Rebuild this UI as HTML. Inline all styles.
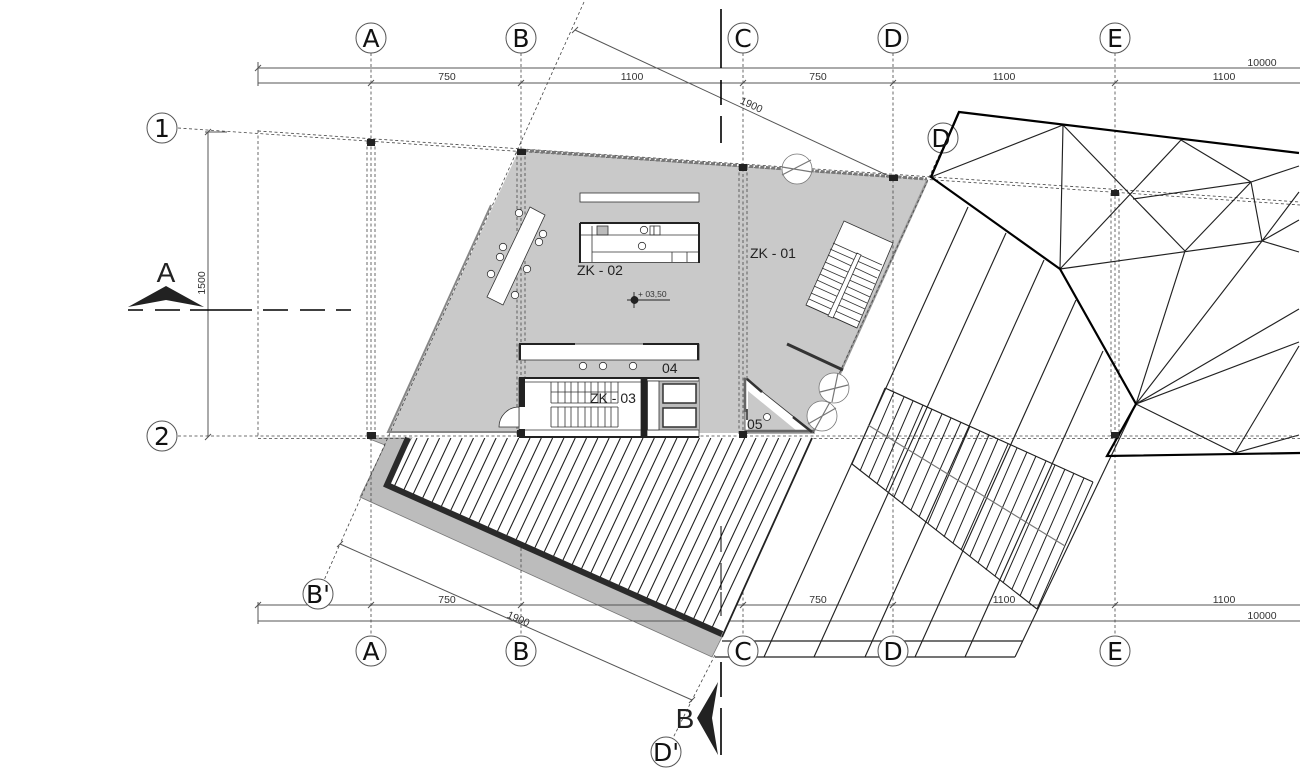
<!DOCTYPE html>
<html><head><meta charset="utf-8"><style>html,body{margin:0;padding:0;background:#fff}svg{display:block}text{font-family:"Liberation Sans",sans-serif;fill:#333}.g text{font-family:"DejaVu Sans",sans-serif;font-size:25px;fill:#111;text-anchor:middle}.d text{font-size:10.5px;text-anchor:middle;fill:#333}.z text{font-size:14px;fill:#222}</style></head><body>
<svg width="1300" height="774" viewBox="0 0 1300 774" xmlns="http://www.w3.org/2000/svg">
<defs><clipPath id="hc"><polygon points="412,438 812,438 722,637 385,487"/></clipPath></defs>
<rect width="1300" height="774" fill="#fff"/>
<!-- grey floor -->
<polygon points="519,150 927,180 813,433 388,433" fill="#c9c9c9"/>
<polyline points="491,205 388,432 519,432" fill="none" stroke="#888" stroke-width="2"/>
<line x1="927" y1="181" x2="813" y2="433" stroke="#999" stroke-width="2.500"/>
<polygon points="367,438 385,445 360,497 712,657 722,637 385,487 412,438" fill="#bcbcbc" stroke="#777" stroke-width=".8"/>
<!-- dimensions -->
<g stroke="#555" stroke-width="1" fill="none">
<path d="M258,68H1300M258,83H1300M258,605H1300M258,621H1300M258,62V86M258,602V624"/>
<path d="M208,132V437M205,132H227M575,30L893,178M340,544L692,700"/>
<path d="M255,71l6,-6M368,86l6,-6M518,86l6,-6M740,86l6,-6M890,86l6,-6M1112,86l6,-6M368,608l6,-6M518,608l6,-6M740,608l6,-6M890,608l6,-6M1112,608l6,-6M255,608l6,-6M572,33l6,-6M890,181l6,-6M337,547l6,-6M689,703l6,-6M205,135l6,-6M205,440l6,-6"/>
</g>
<!-- dashed grid -->
<g stroke="#444" stroke-width=".8" stroke-dasharray="3,2.500" fill="none">
<path d="M371,53V636M521,53V636M743,53V636M893,53V636M1115,53V636"/>
<path d="M367,141V436M375,141V436M517,151V436M525,151V436M739,167V436M747,167V436M1111,193V436M1119,193V436"/>
<path d="M178,128L1300,205M258,131L1300,202"/>
<path d="M178,436H1300M258,438.500H1300M258,130V438"/>
<path d="M584,2L340,544M318,594L340,544M715,655L692,700L666,752M953,125L812,433"/>
</g>
<path d="M519,150L927,179" stroke="#777" stroke-width="3" stroke-dasharray="4,1.500" fill="none"/>
<!-- hatched terrace -->
<polygon points="412,438 812,438 722,637 385,487" fill="#fff"/>
<g clip-path="url(#hc)"><path stroke="#222" stroke-width="1.100" fill="none" d="M417,438l-95,202M428.300,438l-95,202M439.600,438l-95,202M450.900,438l-95,202M462.200,438l-95,202M473.500,438l-95,202M484.800,438l-95,202M496.100,438l-95,202M507.400,438l-95,202M518.700,438l-95,202M530,438l-95,202M541.300,438l-95,202M552.600,438l-95,202M563.900,438l-95,202M575.200,438l-95,202M586.500,438l-95,202M597.800,438l-95,202M609.100,438l-95,202M620.400,438l-95,202M631.700,438l-95,202M643,438l-95,202M654.300,438l-95,202M665.600,438l-95,202M676.900,438l-95,202M688.200,438l-95,202M699.500,438l-95,202M710.800,438l-95,202M722.100,438l-95,202M733.400,438l-95,202M744.700,438l-95,202M756,438l-95,202M767.300,438l-95,202M778.600,438l-95,202M789.900,438l-95,202M801.200,438l-95,202"/></g>
<polyline points="408,438 387,485 722,634" fill="none" stroke="#2a2a2a" stroke-width="6"/>
<line x1="812" y1="438" x2="722" y2="637" stroke="#222" stroke-width="1.800"/>
<!-- roof thin lines -->
<g stroke="#222" stroke-width="1.150" fill="none">
<path d="M931,177L1063,125L1060,269M1063,125L1185,251M1060,269L1181,140L1251,182L1299,166M1133,199L1251,182L1262,241M1251,182L1185,251M1060,269L1262,241L1299,252M1262,241L1299,192M1262,241L1299,220M1136,404L1185,251M1136,404L1262,241M1136,404L1299,309M1136,404L1299,342M1136,404L1235,453L1299,435M1235,453L1299,346"/>
<path d="M764,657L968,207M814,657L1006,233M865,657L1044,260M915,657L1076,300M965,657L1103,351M1015,657L1136,404"/>
<path d="M722,641H1023M715,657H1015"/>
<path d="M885,388L1093,482M852,464L1037,609"/>
<path stroke-width="1" d="M885,388L852,464M894,392L860,471M904,397L869,477M913,401L877,484M923,405L886,490M932,409L894,497M942,414L902,504M951,418L911,510M961,422L919,517M970,426L928,523M980,431L936,530M989,435L944,537M998,439L953,543M1008,444L961,550M1017,448L970,556M1027,452L978,563M1036,456L986,570M1046,461L995,576M1055,465L1003,583M1065,469L1012,589M1074,473L1020,596M1084,478L1029,603M1093,482L1037,609"/>
<path stroke="#777" d="M868,425L1065,546"/>
</g>
<g stroke="#000" stroke-width="2.200" fill="none" stroke-linejoin="miter">
<polyline points="1299,153 959,112 931,177 1060,269 1136,404 1107,456 1300,453"/>
</g>
<!-- furniture -->
<g stroke="#333" stroke-width=".8" fill="#fff">
<rect x="580" y="193" width="119" height="9"/>
<rect x="580.500" y="223" width="118" height="39.500"/>
<polygon points="530,207 545,215 503,305 487,297"/>
<circle cx="519" cy="213" r="3.700"/><circle cx="543" cy="234" r="3.700"/><circle cx="539" cy="242" r="3.700"/><circle cx="503" cy="247" r="3.700"/><circle cx="500" cy="257" r="3.700"/><circle cx="527" cy="269" r="3.700"/><circle cx="491" cy="274" r="3.700"/><circle cx="515" cy="295" r="3.700"/>
<circle cx="644" cy="230" r="3.700"/><circle cx="642" cy="246" r="3.700"/>
<rect x="597" y="226" width="11" height="9" fill="#bbb"/><rect x="650" y="226" width="4" height="9"/><rect x="654" y="226" width="6" height="9"/>
<rect x="519" y="344" width="180" height="16"/>
<circle cx="583" cy="366" r="3.700"/><circle cx="603" cy="366" r="3.700"/><circle cx="633" cy="366" r="3.700"/>
<polygon points="844,221 893,243 857,328 806,305"/>
<rect x="519" y="378" width="122" height="59"/>
<rect x="647" y="378" width="52" height="59"/>
<path d="M519,407A20,20 0 0 0 499,427H519Z"/>
<polygon points="745,378 814,433 745,433"/>
<circle cx="797" cy="169" r="15" stroke="#777"/><circle cx="834" cy="388" r="15" stroke="#777"/><circle cx="822" cy="416" r="15" stroke="#777"/>
</g>
<polygon points="748,391 797,431 748,431" fill="#c9c9c9"/>
<rect x="659" y="381" width="40" height="49" fill="#bbb"/>
<circle cx="767" cy="417" r="3.500" fill="#fff" stroke="#333" stroke-width=".8"/>
<g stroke="#333" stroke-width=".8" fill="none">
<path d="M592,226V262M581,235H698M592,252H698M672,252V262M687,252V262"/>
<path d="M833,243L882,265M830,249L880,271M828,255L877,278M825,262L875,284M822,268L872,290M820,274L870,297M817,280L867,303M814,286L865,309M811,293L862,315M809,299L860,322M806,305L857,328"/>
<path d="M551,382V403M558,382V403M565,382V403M571,382V403M578,382V403M585,382V403M591,382V403M598,382V403M605,382V403M611,382V403M618,382V403M551,407V427M558,407V427M565,407V427M571,407V427M578,407V427M585,407V427M591,407V427M598,407V427M605,407V427M611,407V427M618,407V427M551,392H618M551,403H618M551,407H618M551,427H618"/>
<path d="M525,382H641M525,430H641M647,381H699M647,430H699"/>
</g>
<polygon points="857,253 861,255 833,318 828,316" fill="#fff" stroke="#333" stroke-width=".8"/>
<g stroke="#333" stroke-width=".8" fill="#fff">
<rect x="647.500" y="381" width="11.500" height="49"/>
<rect x="663" y="384" width="33" height="19" stroke-width="1.500"/>
<rect x="663" y="408" width="33" height="19" stroke-width="1.500"/>
</g>
<g stroke="#777" stroke-width="1.200"><path d="M782,175L811,160M782,167L812,172M820,392L848,385M832,402L838,373M808,424L836,408M814,431L830,402"/></g>
<g stroke="#222" fill="none">
<path stroke-width="2" d="M580,223H699M580,223V263M699,223V263M519,344H575M643,344H699M520,344V360M698,344V360M519,378H699M519,437H699"/>
<path stroke-width="3" stroke="#333" d="M787,344L843,370"/>
<path stroke-width="2.500" stroke="#666" d="M745,378V412M745,431H814"/>
<path stroke-width="1.500" stroke="#222" d="M747,409V420"/>
<path stroke-width="2.500" stroke="#333" d="M747,379L762,392M793,417L812,432"/>
</g>
<!-- black walls and columns -->
<g fill="#222">
<rect x="519" y="377" width="6" height="30"/><rect x="519" y="429" width="6" height="8"/><rect x="641" y="378" width="6" height="59"/>
<rect x="367" y="139" width="8" height="7"/><rect x="517" y="149" width="9" height="6"/><rect x="739" y="164" width="8" height="7"/><rect x="889" y="175" width="9" height="6"/><rect x="1111" y="190" width="8" height="6"/><rect x="367" y="432" width="9" height="7"/><rect x="517" y="430" width="8" height="7"/><rect x="739" y="431" width="8" height="7"/><rect x="1111" y="432" width="8" height="6"/>
</g>
<!-- level mark -->
<g stroke="#222" stroke-width=".9" fill="none"><path d="M627,300H670M634,292V308"/><circle cx="634.500" cy="300" r="3.500" fill="#222"/></g>
<text x="638" y="297" font-size="8.500">+ 03,50</text>
<!-- section marks -->
<g stroke="#000" stroke-width="1.600" fill="none">
<path d="M128,310H143M155,310H180M190,310H252M263,310H288M300,310H325M336,310H351"/>
<path d="M721,9V68M721,80V105M721,116V143M721,662V697M721,708V755"/>
<path stroke-width="1" d="M721,526V552M721,563V590M721,592V616"/>
</g>
<polygon points="128,307 166,286 204,307 166,300" fill="#222"/>
<polygon points="718,682 697,718 718,755 712,718" fill="#222"/>
<text x="166" y="282" font-size="28" text-anchor="middle" style="fill:#222">A</text>
<text x="685" y="728" font-size="28" text-anchor="middle" style="fill:#222">B</text>
<!-- circles -->
<g fill="#fff" stroke="#555" stroke-width="1">
<circle cx="371" cy="38" r="15"/><circle cx="521" cy="38" r="15"/><circle cx="743" cy="38" r="15"/><circle cx="893" cy="38" r="15"/><circle cx="1115" cy="38" r="15"/>
<circle cx="371" cy="651" r="15"/><circle cx="521" cy="651" r="15"/><circle cx="743" cy="651" r="15"/><circle cx="893" cy="651" r="15"/><circle cx="1115" cy="651" r="15"/>
<circle cx="162" cy="128" r="15"/><circle cx="162" cy="436" r="15"/><circle cx="318" cy="594" r="15"/><circle cx="666" cy="752" r="15"/>
</g>
<circle cx="943" cy="138" r="15" fill="none" stroke="#555"/>
<line x1="959" y1="112" x2="931" y2="177" stroke="#000" stroke-width="2.200"/>
<g class="g">
<text x="371" y="47">A</text><text x="521" y="47">B</text><text x="743" y="47">C</text><text x="893" y="47">D</text><text x="1115" y="47">E</text>
<text x="371" y="660">A</text><text x="521" y="660">B</text><text x="743" y="660">C</text><text x="893" y="660">D</text><text x="1115" y="660">E</text>
<text x="162" y="137">1</text><text x="162" y="445">2</text><text x="318" y="603">B'</text><text x="666" y="761">D'</text><text x="941" y="147">D</text>
</g>
<g class="d">
<text x="1262" y="66">10000</text><text x="447" y="80">750</text><text x="632" y="80">1100</text><text x="818" y="80">750</text><text x="1004" y="80">1100</text><text x="1224" y="80">1100</text>
<text x="447" y="603">750</text><text x="818" y="603">750</text><text x="1004" y="603">1100</text><text x="1224" y="603">1100</text><text x="1262" y="619">10000</text>
<text transform="translate(750,108) rotate(25)">1900</text><text transform="translate(517,622) rotate(24)">1900</text><text transform="translate(205,283) rotate(-90)">1500</text>
</g>
<g class="z">
<text x="750" y="258">ZK - 01</text><text x="577" y="275">ZK - 02</text><text x="590" y="403">ZK - 03</text><text x="662" y="373">04</text><text x="747" y="429">05</text>
</g>
</svg>
</body></html>
